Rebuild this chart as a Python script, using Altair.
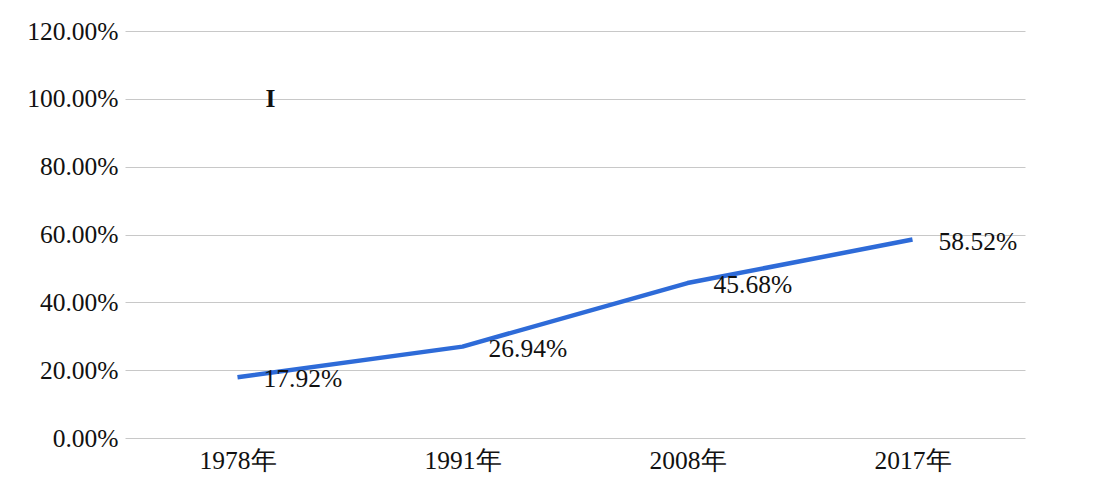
import altair as alt
import pandas as pd

years = ["1978年", "1991年", "2008年", "2017年"]
values = [0.1792, 0.2694, 0.4568, 0.5852]
labels = ["17.92%", "26.94%", "45.68%", "58.52%"]

stray_year = ["1978年"]
stray_value = [1.0]
stray_text = ["I"]

df = pd.DataFrame({"year": years, "value": values, "label": labels})
stray = pd.DataFrame({"year": stray_year, "value": stray_value, "label": stray_text})

FONT = "Liberation Serif"
FS = 25.5

x = alt.X("year:N", sort=years, title=None,
          scale=alt.Scale(type="point", padding=0.5),
          axis=alt.Axis(labelAngle=0, ticks=False, domain=False, grid=False,
                        labelFont=FONT, labelFontSize=FS, labelColor="#111",
                        labelPadding=10))
y = alt.Y("value:Q", title=None,
          scale=alt.Scale(domain=[0, 1.2], nice=False),
          axis=alt.Axis(values=[0, 0.2, 0.4, 0.6, 0.8, 1.0, 1.2], format=".2%",
                        ticks=False, domain=False, gridColor="#c8c8c8", gridWidth=1,
                        labelFont=FONT, labelFontSize=FS, labelColor="#111",
                        labelPadding=7))

line = alt.Chart(df).mark_line(color="#2e6bd8", strokeWidth=4.5, interpolate="linear",
                               strokeCap="butt", strokeJoin="round").encode(x=x, y=y)
text = alt.Chart(df).mark_text(align="left", baseline="middle", dx=26, dy=2,
                               font=FONT, fontSize=FS, color="#111").encode(x=x, y=y, text="label:N")
stray_mark = alt.Chart(stray).mark_text(align="center", baseline="middle", dx=33,
                                        font=FONT, fontSize=FS, fontWeight="bold", color="#111").encode(
    x=x, y=y, text="label:N")

chart = alt.layer(line, text, stray_mark).properties(
    width=900, height=407,
    background="white",
    autosize=alt.AutoSizeParams(type="none"),
    padding={"left": 117, "top": 23, "right": 67, "bottom": 36},
).configure_view(stroke=None)

chart.save("out.html", embed_options={"renderer": "svg", "actions": False})
